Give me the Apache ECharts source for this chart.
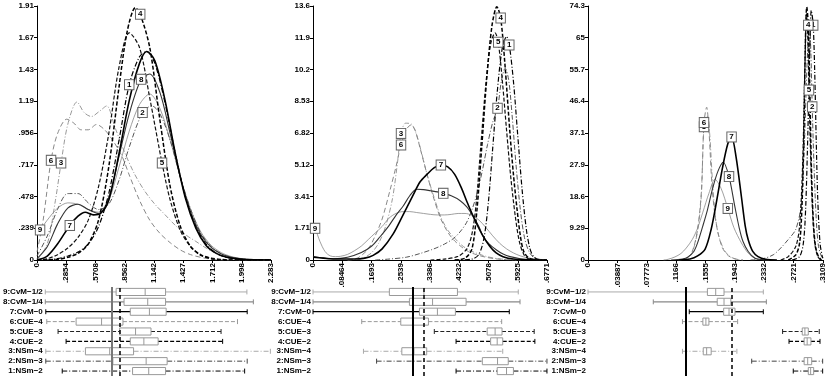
<!DOCTYPE html>
<html><head><meta charset="utf-8">
<script src="https://cdn.jsdelivr.net/npm/echarts@6/dist/echarts.min.js"></script>
<style>html,body{margin:0;padding:0;background:#fff}#c{width:830px;height:377px}</style>
</head><body><div id="c"></div>
<script>
// ---------- categories / labels ----------
const rowNames = ['1:NSm\u22122','2:NSm\u22123','3:NSm\u22124','4:CUE\u22122','5:CUE\u22123','6:CUE\u22124','7:CvM\u22120','8:CvM\u22121/4','9:CvM\u22121/2'];

// ---------- tick labels ----------
const xTicks1 = ['0','.2854','.5708','.8562','1.142','1.427','1.712','1.998','2.283'];
const yTicks1 = ['0','.239','.478','.717','.956','1.19','1.43','1.67','1.91'];
const xTicks2 = ['0','.08464','.1693','.2539','.3386','.4232','.5078','.5925','.6771'];
const yTicks2 = ['0','1.71','3.41','5.12','6.82','8.53','10.2','11.9','13.6'];
const xTicks3 = ['0','.03887','.07773','.1166','.1555','.1943','.2332','.2721','.3109'];
const yTicks3 = ['0','9.29','18.6','27.9','37.1','46.4','55.7','65','74.3'];
const xStep = [0.2854, 0.08464, 0.03887];
const yStep = [0.239, 1.7056, 9.2875];

// ---------- panel 1 densities ----------
const d1_1 = [[0,0],[0.1,0],[0.2,0.01],[0.3,0.03],[0.4,0.06],[0.5,0.12],[0.6,0.25],[0.7,0.5],[0.8,0.9],[0.9,1.32],[1.0,1.53],[1.07,1.57],[1.15,1.48],[1.25,1.18],[1.35,0.8],[1.45,0.47],[1.55,0.25],[1.65,0.12],[1.75,0.05],[1.85,0.02],[2.0,0.004],[2.283,0]];
const d1_2 = [[0,0.03],[0.1,0.18],[0.2,0.38],[0.3,0.5],[0.4,0.5],[0.5,0.43],[0.6,0.38],[0.7,0.42],[0.8,0.6],[0.9,0.85],[1.03,1.11],[1.12,1.16],[1.2,1.1],[1.3,0.9],[1.4,0.62],[1.5,0.38],[1.6,0.2],[1.7,0.1],[1.8,0.045],[1.9,0.02],[2.0,0.008],[2.1,0],[2.283,0]];
const d1_3 = [[0,0],[0.1,0.12],[0.18,0.45],[0.235,0.73],[0.3,1.02],[0.39,1.19],[0.46,1.11],[0.53,1.08],[0.61,1.12],[0.68,1.16],[0.76,1.0],[0.85,0.82],[0.95,0.65],[1.05,0.52],[1.15,0.42],[1.25,0.34],[1.35,0.26],[1.45,0.19],[1.55,0.14],[1.65,0.09],[1.75,0.05],[1.85,0.025],[2.0,0.008],[2.283,0]];
const d1_4 = [[0,0],[0.2,0.005],[0.3,0.02],[0.4,0.05],[0.5,0.12],[0.6,0.3],[0.7,0.7],[0.8,1.3],[0.88,1.72],[0.96,1.9],[1.007,1.85],[1.1,1.6],[1.2,1.05],[1.3,0.55],[1.4,0.25],[1.5,0.1],[1.6,0.035],[1.7,0.01],[1.8,0],[2.283,0]];
const d1_5 = [[0,0],[0.1,0.01],[0.2,0.04],[0.3,0.09],[0.4,0.17],[0.5,0.3],[0.6,0.55],[0.7,0.95],[0.8,1.45],[0.9,1.71],[1.0,1.6],[1.1,1.22],[1.22,0.73],[1.3,0.45],[1.4,0.22],[1.5,0.1],[1.6,0.04],[1.7,0.015],[1.8,0.005],[1.9,0],[2.283,0]];
const d1_6 = [[0,0.06],[0.06,0.3],[0.137,0.75],[0.2,0.95],[0.29,1.06],[0.36,1.03],[0.43,0.98],[0.5,0.98],[0.58,1.02],[0.66,0.98],[0.74,0.9],[0.83,0.78],[0.9,0.64],[1.0,0.45],[1.1,0.3],[1.2,0.2],[1.3,0.13],[1.4,0.075],[1.5,0.04],[1.65,0.012],[1.8,0],[2.283,0]];
const d1_7 = [[0,0],[0.1,0.03],[0.2,0.12],[0.32,0.26],[0.4,0.33],[0.47,0.36],[0.55,0.34],[0.62,0.35],[0.7,0.45],[0.8,0.8],[0.9,1.2],[1.0,1.48],[1.07,1.57],[1.15,1.5],[1.25,1.2],[1.35,0.8],[1.45,0.46],[1.55,0.24],[1.65,0.11],[1.75,0.05],[1.85,0.02],[2.0,0.005],[2.283,0]];
const d1_8 = [[0,0.01],[0.1,0.1],[0.2,0.27],[0.3,0.39],[0.4,0.42],[0.5,0.38],[0.6,0.35],[0.7,0.47],[0.8,0.78],[0.9,1.1],[1.016,1.36],[1.1,1.4],[1.2,1.26],[1.3,0.95],[1.4,0.62],[1.5,0.36],[1.6,0.19],[1.7,0.095],[1.8,0.045],[1.9,0.02],[2.0,0.008],[2.15,0],[2.283,0]];
const d1_9 = [[0,0.2],[0.03,0.226],[0.1,0.3],[0.2,0.39],[0.3,0.43],[0.4,0.42],[0.5,0.38],[0.6,0.36],[0.7,0.45],[0.8,0.7],[0.9,0.97],[1.0,1.17],[1.1,1.25],[1.2,1.14],[1.3,0.9],[1.4,0.62],[1.5,0.38],[1.6,0.21],[1.7,0.11],[1.8,0.055],[1.9,0.025],[2.0,0.01],[2.1,0.004],[2.283,0]];
const lab1 = [9,10,3,10,12,2,3,10,1];

// ---------- panel 2 densities ----------
const d2_1 = [[0.41,0],[0.46,0.05],[0.48,0.3],[0.495,1.2],[0.508,3.2],[0.52,6.0],[0.533,9.0],[0.547,11.3],[0.56,12.0],[0.568,11.55],[0.58,9.6],[0.592,6.8],[0.605,3.8],[0.617,1.7],[0.628,0.6],[0.64,0.15],[0.66,0],[0.6771,0]];
const d2_2 = [[0.18,0],[0.22,0.05],[0.27,0.15],[0.31,0.35],[0.35,0.6],[0.38,0.85],[0.406,1.15],[0.425,1.5],[0.444,2.0],[0.46,2.7],[0.475,3.6],[0.49,4.8],[0.505,6.2],[0.52,7.4],[0.534,8.15],[0.545,9.6],[0.556,10.3],[0.566,9.7],[0.576,7.8],[0.588,5.0],[0.6,2.7],[0.612,1.2],[0.625,0.45],[0.64,0.12],[0.66,0.02],[0.6771,0]];
const d2_3 = [[0.1,0],[0.13,0.05],[0.15,0.15],[0.17,0.4],[0.19,0.9],[0.21,1.8],[0.23,3.3],[0.245,5.3],[0.2547,6.8],[0.268,7.35],[0.285,7.3],[0.3,6.7],[0.315,5.7],[0.33,4.6],[0.348,3.5],[0.37,2.3],[0.39,1.6],[0.406,1.25],[0.43,0.8],[0.45,0.55],[0.474,0.36],[0.5,0.2],[0.53,0.08],[0.56,0.03],[0.6,0]];
const d2_4 = [[0.41,0],[0.44,0.1],[0.46,0.6],[0.474,2.6],[0.488,6.0],[0.503,9.8],[0.518,12.6],[0.532,13.6],[0.543,13.0],[0.555,10.6],[0.57,6.8],[0.58,4.6],[0.59,2.8],[0.6,1.3],[0.61,0.45],[0.625,0.1],[0.645,0]];
const d2_5 = [[0.34,0],[0.38,0.05],[0.42,0.2],[0.445,0.6],[0.46,1.4],[0.472,3.0],[0.485,6.0],[0.5,9.4],[0.514,11.6],[0.527,12.2],[0.536,11.7],[0.548,9.6],[0.56,7.0],[0.572,4.5],[0.585,2.4],[0.597,1.0],[0.61,0.3],[0.625,0.05],[0.645,0]];
const d2_6 = [[0.1,0],[0.12,0.05],[0.136,0.18],[0.16,0.6],[0.18,1.3],[0.2,2.2],[0.223,3.76],[0.24,5.0],[0.2547,6.18],[0.27,7.0],[0.283,7.25],[0.295,7.0],[0.31,6.0],[0.33,4.6],[0.348,3.4],[0.37,2.2],[0.39,1.5],[0.406,1.1],[0.43,0.7],[0.45,0.45],[0.474,0.28],[0.5,0.15],[0.53,0.06],[0.56,0.02],[0.6,0]];
const d2_7 = [[0,0.15],[0.03,0.1],[0.07,0.05],[0.12,0.05],[0.15,0.1],[0.174,0.25],[0.2,0.6],[0.232,1.4],[0.26,2.4],[0.29,3.5],[0.31,4.2],[0.33,4.6],[0.35,4.95],[0.37,5.1],[0.39,5.0],[0.41,4.6],[0.43,3.85],[0.444,3.2],[0.46,2.5],[0.473,1.97],[0.49,1.35],[0.512,0.72],[0.53,0.38],[0.55,0.18],[0.58,0.05],[0.62,0.01],[0.6771,0]];
const d2_8 = [[0,0.2],[0.03,0.1],[0.06,0.07],[0.1,0.15],[0.14,0.4],[0.17,0.75],[0.194,1.25],[0.22,1.85],[0.24,2.4],[0.261,2.9],[0.28,3.45],[0.30,3.8],[0.32,3.78],[0.34,3.72],[0.36,3.66],[0.377,3.58],[0.4,3.45],[0.425,3.2],[0.445,2.85],[0.464,2.33],[0.48,1.8],[0.493,1.25],[0.51,0.85],[0.531,0.54],[0.55,0.32],[0.57,0.18],[0.6,0.07],[0.63,0.02],[0.6771,0]];
const d2_9 = [[0,1.8],[0.006,1.7],[0.02,1.0],[0.035,0.45],[0.05,0.22],[0.065,0.18],[0.08,0.2],[0.1,0.3],[0.12,0.5],[0.14,0.75],[0.16,1.1],[0.18,1.45],[0.2,1.8],[0.22,2.25],[0.24,2.5],[0.26,2.6],[0.28,2.6],[0.3,2.55],[0.32,2.5],[0.34,2.45],[0.36,2.42],[0.38,2.42],[0.4,2.45],[0.42,2.5],[0.44,2.5],[0.46,2.4],[0.48,2.15],[0.5,1.75],[0.52,1.3],[0.54,0.9],[0.56,0.6],[0.58,0.38],[0.6,0.22],[0.62,0.12],[0.64,0.06],[0.66,0.03],[0.6771,0.01]];
const lab2 = [9,14,8,8,10,8,13,15,1];

// ---------- panel 3 densities ----------
const d3_1 = [[0.27,0],[0.28,1],[0.285,5],[0.288,15],[0.291,38],[0.2935,62],[0.2955,73],[0.298,68.7],[0.3,55],[0.302,35],[0.304,18],[0.307,5],[0.31,1],[0.3109,0.5]];
const d3_2 = [[0.215,0],[0.23,0.3],[0.245,1.5],[0.255,3.5],[0.265,6],[0.275,9],[0.282,16],[0.286,32],[0.29,58],[0.293,70],[0.295,60],[0.2967,44.8],[0.299,28],[0.302,12],[0.305,4],[0.309,1],[0.3109,0.5]];
const d3_3 = [[0.12,0],[0.13,0.5],[0.138,2.3],[0.145,8.5],[0.15,19],[0.1535,39],[0.158,42],[0.161,37],[0.165,22],[0.169,12],[0.173,7],[0.18,3],[0.188,1],[0.197,0.2],[0.205,0]];
const d3_4 = [[0.265,0],[0.275,1.5],[0.28,5],[0.283,15],[0.2855,35],[0.2875,62],[0.2895,74],[0.2915,68.7],[0.2935,50],[0.2955,28],[0.298,12],[0.301,4],[0.305,1],[0.309,0]];
const d3_5 = [[0.255,0],[0.265,1],[0.275,4],[0.28,10],[0.284,28],[0.287,56],[0.289,72],[0.291,64],[0.2924,49.7],[0.294,35],[0.297,15],[0.3,5],[0.304,1],[0.308,0]];
const d3_6 = [[0.12,0],[0.13,0.5],[0.138,2.5],[0.145,9],[0.15,20],[0.1535,40.2],[0.157,44.7],[0.16,38],[0.164,22],[0.168,13],[0.172,8],[0.178,3.5],[0.186,1.2],[0.195,0.3],[0.205,0]];
const d3_7 = [[0.12,0],[0.135,0.3],[0.145,1.2],[0.155,3.2],[0.163,9],[0.17,17],[0.178,27],[0.185,34],[0.19,36],[0.196,30],[0.203,18.5],[0.208,10],[0.212,5.9],[0.218,2.5],[0.225,1],[0.235,0.2],[0.25,0]];
const d3_8 = [[0.11,0],[0.125,0.3],[0.132,0.8],[0.14,2.5],[0.145,5],[0.152,10],[0.158,14.6],[0.165,21],[0.172,26],[0.179,28.6],[0.1866,24.4],[0.194,16],[0.2,9.5],[0.205,5.5],[0.212,2.5],[0.221,0.5],[0.23,0.1],[0.24,0]];
const d3_9 = [[0.1,0],[0.106,0.2],[0.115,0.9],[0.123,1.9],[0.13,3.5],[0.138,6],[0.145,9.3],[0.152,14],[0.16,19.5],[0.168,23.6],[0.176,21],[0.185,15.1],[0.193,9.5],[0.203,5],[0.212,2],[0.221,0.5],[0.232,0.1],[0.24,0]];
const lab3 = [7,11,5,7,8,5,8,10,11];

// ---------- box plots: [min, q1, median, q3, max], rows 1..9 ----------
const box1 = [[0.176,0.886,1.049,1.219,2.017],[0.01,0.687,1.023,1.235,2.043],[0.01,0.41,0.655,0.896,2.277],[0.215,0.863,1.0,1.144,1.795],[0.134,0.756,0.916,1.072,1.779],[0.02,0.316,0.573,0.789,1.945],[0.01,0.863,1.056,1.225,2.043],[0.005,0.80,1.039,1.219,2.105],[0.005,0.72,1.013,1.219,2.04]];
const box2 = [[0.414,0.533,0.56,0.58,0.677],[0.184,0.49,0.534,0.565,0.677],[0.146,0.257,0.292,0.329,0.549],[0.414,0.514,0.533,0.549,0.642],[0.351,0.504,0.527,0.547,0.64],[0.141,0.254,0.29,0.334,0.546],[0.0,0.308,0.36,0.412,0.568],[0.0,0.279,0.346,0.443,0.599],[0.0,0.221,0.321,0.418,0.594]];
const box3 = [[0.2716,0.2915,0.2946,0.2986,0.3105],[0.2166,0.286,0.2907,0.296,0.3105],[0.125,0.1525,0.157,0.163,0.197],[0.266,0.286,0.290,0.295,0.307],[0.2575,0.2835,0.287,0.2915,0.306],[0.125,0.152,0.156,0.160,0.198],[0.134,0.1795,0.1866,0.1945,0.232],[0.0864,0.171,0.180,0.189,0.236],[0.0,0.158,0.169,0.180,0.232]];
const vlines1 = [0.681, 0.756];
const vlines2 = [0.2856, 0.321];
const vlines3 = [0.1283, 0.1856];

// ---------- styles / layout ----------
const FONT = 'Liberation Sans, Arial, sans-serif';
const DD = [5,2,1,2], DA = [4,2], DG = [5,3];
const lineStyles = [
  {c:'#000', w:1.2, t:DD}, {c:'#555', w:1, t:DD}, {c:'#999', w:1, t:DD},
  {c:'#000', w:1.5, t:DA}, {c:'#111', w:1.2, t:DA}, {c:'#888', w:1, t:DG},
  {c:'#000', w:1.6, t:'solid'}, {c:'#333', w:1.1, t:'solid'}, {c:'#888', w:0.8, t:'solid'}
];
const rowStyle = [
  {c:'#000', w:1, d:DD}, {c:'#444', w:1, d:DD}, {c:'#aaa', w:1, d:DD},
  {c:'#000', w:1.2, d:DA}, {c:'#222', w:1.2, d:DA}, {c:'#999', w:1, d:DA},
  {c:'#000', w:1.3, d:null}, {c:'#888', w:1.3, d:null}, {c:'#aaa', w:1, d:null}
];
const drawOrder = [2,5,8,1,7,4,0,3,6];
const lefts = [37, 313, 588], widths = [234, 234, 235];
const solidColor = ['#777', '#000', '#000'];

const panels = [
  {d:[d1_1,d1_2,d1_3,d1_4,d1_5,d1_6,d1_7,d1_8,d1_9], lab:lab1, box:box1, vl:vlines1, xt:xTicks1, yt:yTicks1},
  {d:[d2_1,d2_2,d2_3,d2_4,d2_5,d2_6,d2_7,d2_8,d2_9], lab:lab2, box:box2, vl:vlines2, xt:xTicks2, yt:yTicks2},
  {d:[d3_1,d3_2,d3_3,d3_4,d3_5,d3_6,d3_7,d3_8,d3_9], lab:lab3, box:box3, vl:vlines3, xt:xTicks3, yt:yTicks3}
];

const txt = {fontSize:8, fontWeight:'bold', fontFamily:FONT, color:'#000'};
const grid = [], xAxis = [], yAxis = [], series = [];

panels.forEach((p, i) => {
  grid.push({left:lefts[i], top:6, width:widths[i], height:254});
});
panels.forEach((p, i) => {
  grid.push({left:lefts[i], top:287, width:widths[i], height:89});
});
panels.forEach((p, i) => {
  xAxis.push({type:'value', gridIndex:i, min:0, max:xStep[i]*8, interval:xStep[i],
    axisLine:{onZero:false, lineStyle:{color:'#000', width:1}},
    axisTick:{length:3, lineStyle:{color:'#000'}}, splitLine:{show:false},
    axisLabel:Object.assign({rotate:90, margin:3, showMinLabel:true, showMaxLabel:true,
      formatter:(v)=>p.xt[Math.round(v/xStep[i])]}, txt)});
  yAxis.push({type:'value', gridIndex:i, min:0, max:yStep[i]*8, interval:yStep[i],
    axisLine:{show:true, onZero:false, lineStyle:{color:'#000', width:1}},
    axisTick:{show:true, length:3, lineStyle:{color:'#000'}}, splitLine:{show:false},
    axisLabel:Object.assign({margin:3, showMinLabel:true, showMaxLabel:true,
      formatter:(v)=>p.yt[Math.round(v/yStep[i])]}, txt)});
});
panels.forEach((p, i) => {
  xAxis.push({type:'value', gridIndex:i+3, position:'top', min:0, max:xStep[i]*8, interval:xStep[i],
    axisLine:{onZero:false, lineStyle:{color:'#999', width:1}},
    axisTick:{inside:true, length:3, lineStyle:{color:'#999'}},
    axisLabel:{show:false}, splitLine:{show:false}});
  yAxis.push({type:'category', gridIndex:i+3, data:rowNames,
    axisLine:{show:false}, axisTick:{show:false},
    axisLabel:Object.assign({margin:2, interval:0}, txt)});
});

function renderBox(params, api) {
  const r = api.value(0);
  const pt = [1,2,3,4,5].map(k => api.coord([api.value(k), r]));
  const y = pt[0][1];
  const band = api.size([0, 1])[1];
  const bh = band * 0.72, ch = band * 0.5;
  const st = rowStyle[r];
  const wl = {stroke:st.c, lineWidth:st.w, lineDash:st.d, fill:null};
  return {type:'group', children:[
    {type:'line', shape:{x1:pt[0][0], y1:y, x2:pt[1][0], y2:y}, style:wl},
    {type:'line', shape:{x1:pt[3][0], y1:y, x2:pt[4][0], y2:y}, style:wl},
    {type:'line', shape:{x1:pt[0][0], y1:y-ch/2, x2:pt[0][0], y2:y+ch/2}, style:{stroke:st.c, lineWidth:1}},
    {type:'line', shape:{x1:pt[4][0], y1:y-ch/2, x2:pt[4][0], y2:y+ch/2}, style:{stroke:st.c, lineWidth:1}},
    {type:'rect', shape:{x:pt[1][0], y:y-bh/2, width:pt[3][0]-pt[1][0], height:bh}, style:{stroke:'#999', fill:'none', lineWidth:1}},
    {type:'line', shape:{x1:pt[2][0], y1:y-bh/2, x2:pt[2][0], y2:y+bh/2}, style:{stroke:'#999', lineWidth:1}}
  ]};
}

panels.forEach((p, i) => {
  drawOrder.forEach(k => {
    const ls = lineStyles[k];
    const data = p.d[k].map((pt, j) => j === p.lab[k]
      ? {value:pt, label:Object.assign({show:true, position:'inside', formatter:String(k+1),
          backgroundColor:'#fff', borderColor:'#666', borderWidth:1, padding:[1,2,0,2]}, txt)}
      : pt);
    series.push({type:'line', xAxisIndex:i, yAxisIndex:i, data:data, smooth:0.3,
      symbol:'circle', symbolSize:0, showSymbol:true, showAllSymbol:true,
      lineStyle:{color:ls.c, width:ls.w, type:ls.t}, itemStyle:{color:ls.c},
      label:{show:false}, emphasis:{disabled:true}, silent:true, animation:false, clip:true});
  });
  series.push({type:'custom', xAxisIndex:i+3, yAxisIndex:i+3,
    data:p.box.map((b, r) => [r].concat(b)),
    encode:{x:[1,2,3,4,5], y:0}, renderItem:renderBox, silent:true, animation:false, clip:false,
    markLine:{silent:true, symbol:['none','none'], label:{show:false}, animation:false,
      data:[{xAxis:p.vl[0], lineStyle:{color:solidColor[i], width:2, type:'solid'}},
            {xAxis:p.vl[1], lineStyle:{color:'#000', width:1.5, type:[4,3]}}]}});
});

const chart = echarts.init(document.getElementById('c'));
chart.setOption({animation:false, backgroundColor:'#fff', grid, xAxis, yAxis, series});
</script></body></html>
